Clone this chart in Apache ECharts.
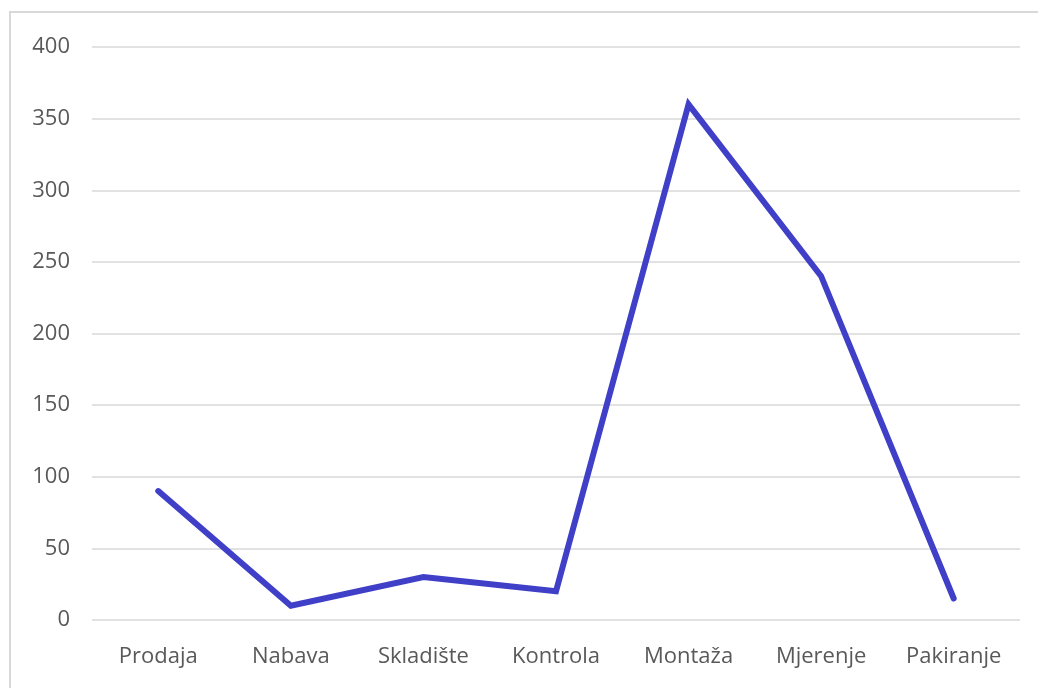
<!DOCTYPE html>
<html><head><meta charset="utf-8">
<script src="https://cdn.jsdelivr.net/npm/echarts@6/dist/echarts.min.js"></script>
<style>html,body{margin:0;padding:0;background:#fff}#c{width:1038px;height:688px}</style>
</head><body><div id="c"></div>
<script>
const categories = ['Prodaja','Nabava','Skladište','Kontrola','Montaža','Mjerenje','Pakiranje'];
const values = [90, 10, 30, 20, 360, 240, 15];
const yTicks = [0, 50, 100, 150, 200, 250, 300, 350, 400];

const chart = echarts.init(document.getElementById('c'), null, {renderer:'canvas'});
chart.setOption({
  animation:false,
  backgroundColor:'#fff',
  graphic:[{type:'rect', shape:{x:10,y:12,width:1200,height:900}, style:{fill:'none', stroke:'#d9d9d9', lineWidth:2}, silent:true}],
  grid:{left:92,right:18,top:47,bottom:68,containLabel:false},
  xAxis:{type:'category',data:categories,boundaryGap:true,
    axisLine:{show:false},axisTick:{show:false},
    axisLabel:{color:'#595959',fontSize:22,fontFamily:'Open Sans',margin:26}},
  yAxis:{type:'value',min:yTicks[0],max:yTicks[yTicks.length-1],interval:50,
    axisLine:{show:false},axisTick:{show:false},
    splitLine:{lineStyle:{color:'#d9d9d9',width:1.5}},
    axisLabel:{color:'#595959',fontSize:22,fontFamily:'Open Sans',margin:22,align:'right'}},
  series:[{type:'line',data:values,symbol:'none',
    lineStyle:{color:'#3F3FC8',width:6,cap:'round',join:'miter'}}]
});
</script></body></html>
